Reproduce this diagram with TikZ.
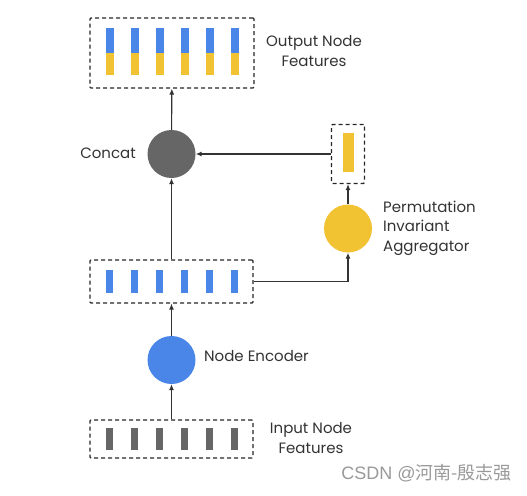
\documentclass[tikz,border=0pt]{standalone}
\usepackage{fontspec}
\setmainfont{Poppins}
\newfontfamily\cjkfont{Noto Sans CJK SC}
\newfontfamily\markfont{Liberation Sans}
\usetikzlibrary{positioning,arrows.meta}
\definecolor{gblue}{HTML}{4A86E8}
\definecolor{gyellow}{HTML}{F1C232}
\definecolor{ggray}{HTML}{666666}
\definecolor{ink}{HTML}{333333}

\begin{document}
\begin{tikzpicture}[x=1pt,y=-1pt]
\tikzstyle{group}=[draw=black!85,dash pattern=on 4pt off 3pt,line width=1.2pt,rounded corners=1pt,inner sep=0pt]
\tikzstyle{bar}=[inner sep=0pt,minimum width=7.5pt,draw=none]
\tikzstyle{op}=[circle,inner sep=0pt,minimum size=48pt,draw=none]
\tikzstyle{link}=[-{Latex[length=6pt,width=5pt]},line width=1.1pt,draw=ink]
\tikzstyle{lbl}=[text=ink,font=\fontsize{15}{19.5}\selectfont,align=center,inner sep=0pt]

\useasboundingbox (0,0) rectangle (527,495);

% boxes
\node (out) [group,minimum width=164pt,minimum height=70pt] at (172,53) {};
\node (mid) [group,minimum width=163pt,minimum height=43pt] at (171.5,281.5) {};
\node (in) [group,minimum width=163pt,minimum height=38pt] at (171.5,439) {};
\node (vec) [group,minimum width=33pt,minimum height=59pt] at (348,154) {};

% bars
\foreach \i in {0,...,5} {
  \node (ob\i) [bar,fill=gblue,minimum height=25pt,anchor=south] at (110+25*\i,53) {};
  \node (oy\i) [bar,fill=gyellow,minimum height=22pt,anchor=north] at (110+25*\i,53) {};
  \node (mb\i) [bar,fill=gblue,minimum width=7pt,minimum height=23pt] at (109.5+25*\i,281.5) {};
  \node (ib\i) [bar,fill=ggray,minimum width=7pt,minimum height=22pt] at (109.5+25*\i,439) {};
}
\node (vy) [bar,fill=gyellow,minimum width=11pt,minimum height=39pt] at (348,152.5) {};

% operations
\node (concat) [op,fill=ggray] at (171.5,154) {};
\node (enc) [op,fill=gblue] at (171.5,360) {};
\node (agg) [op,fill=gyellow] at (348,228.5) {};

% labels
\node (outl) [lbl] at (314,51) {Output Node\\Features};
\node (inl) [lbl] at (311,438) {Input Node\\Features};
\node (concatl) [lbl,anchor=east] at (136,153) {Concat};
\node (encl) [lbl,anchor=west] at (204,356) {Node Encoder};
\node (aggl) [lbl,anchor=west,align=left] at (383,228) {Permutation\\Invariant\\Aggregator};

% flow
\draw [link] (in) -- (enc);
\draw [link] (enc) -- (mid);
\draw [link] (mid) -- (concat);
\draw [link] (concat) -- (out);
\draw [link] (mid.east) -| (agg.south);
\draw [link] (agg) -- (vec);
\draw [link] (vec) -- (concat);

\node (mark) [anchor=east,text=black!40,font=\fontsize{18}{18}\selectfont,inner sep=0pt] at (512,473) {\markfont CSDN @\cjkfont 河南-殷志强};
\end{tikzpicture}
\end{document}
